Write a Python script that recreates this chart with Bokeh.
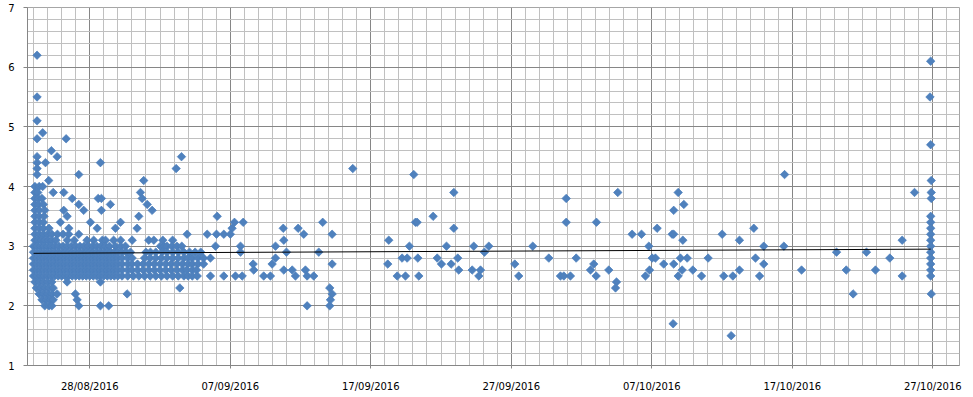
import numpy as np
import pandas as pd
from bokeh.plotting import figure
from bokeh.models import FixedTicker, Range1d, DatetimeTickFormatter, ColumnDataSource
from bokeh.embed import file_html
from bokeh.resources import INLINE

# ---- data: day offsets from 28/08/2016 for each observed value level ----
BASE = pd.Timestamp("2016-08-28")

v62 = [-3.75]
v61 = [59.85]
v55 = [-3.75, 59.8]
v51 = [-3.75]
v49 = [-3.35]
v48 = [-3.75, -1.68]
v47 = [59.85]
v46 = [-2.73]
v45 = [-3.75, -2.32, 6.53]
v44 = [-3.75, -3.15, 0.76]
v43 = [-3.75, 6.15, 18.72]
v42 = [-3.75, -0.78, 23.06, 49.45]
v41 = [-2.92, 3.84, 59.89]
v40 = [-3.9, -3.6, -3.35]
v39 = [-3.9, -3.7, -2.6, -1.85, 3.61, 25.91, 37.58, 41.88, 58.70, 59.89]
v38 = [-3.9, -3.65, -3.4, -1.25, 0.6, 0.83, 3.73, 33.91, 59.89]
v37 = [-3.9, -3.65, -3.3, -0.78, 1.47, 4.09, 42.28]
v36 = [-3.9, -3.6, -3.2, -1.85, -0.43, 0.83, 4.44, 41.56]
v35 = [-3.9, -3.6, -3.25, -1.61, 3.49, 9.07, 24.44, 59.85]
v34 = [-3.9, -3.6, -3.3, -2.09, 0.05, 2.19, 10.30, 10.92, 16.58, 23.18, 23.30,
       33.91, 36.06, 59.85]
v33 = [-3.9, -3.6, -3.3, -2.9, -1.49, 0.53, 1.83, 3.37, 10.13, 13.77, 14.83,
       25.91, 40.38, 47.26, 59.85]
v32 = [-3.9, -3.6, -3.3, -3.0, -2.7, -2.3, -1.9, -1.5, -0.78, 6.93, 8.36, 9.02,
       9.54, 10.01, 15.23, 17.25, 38.60, 39.27, 41.45, 41.56, 45.01, 59.85]
v31 = [-3.9, -3.7, -3.45, -3.2, -2.95, -2.7, -2.4, -1.6, -1.1, -0.2, 0.28, 0.9,
       1.12, 1.7, 2.2, 3.02, 4.20, 4.56, 5.2, 5.9, 13.81, 21.28, 42.21, 46.24,
       57.82, 59.85]
v30 = [-4.0, -3.75, -3.5, -3.25, -3.0, -2.75, -2.5, -2.2, -1.9, -1.6, -1.3, -1.0,
       -0.7, -0.4, -0.1, 0.2, 0.5, 0.8, 1.1, 1.4, 1.83, 2.2, 2.54, 5.03, 5.3,
       5.5, 5.85, 6.2, 6.55, 8.95, 10.73, 13.22, 22.75, 25.39, 27.33, 28.40,
       31.53, 39.79, 47.97, 49.40, 59.85]
v29 = [-4.0, -3.75, -3.5, -3.25, -3.0, -2.75, -2.5, -2.25, -2.0, -1.75, -1.5,
       -1.25, -1.0, -0.75, -0.5, -0.25, 0.0, 0.25, 0.5, 0.75, 1.0, 1.25, 1.5,
       1.75, 2.0, 2.3, 2.6, 2.9, 4.0, 4.32, 4.7, 5.15, 5.5, 5.9, 6.3, 6.7, 7.1,
       7.5, 7.9, 10.73, 14.00, 16.30, 28.09, 53.15, 55.28, 59.85]
v28 = [-4.0, -3.75, -3.5, -3.25, -3.0, -2.75, -2.5, -2.25, -2.0, -1.75, -1.5,
       -1.25, -1.0, -0.75, -0.5, -0.25, 0.0, 0.25, 0.5, 0.75, 1.0, 1.25, 1.5,
       1.75, 2.0, 2.3, 2.7, 3.02, 3.9, 4.3, 4.7, 5.1, 5.5, 5.9, 6.3, 6.7, 7.0,
       7.3, 7.7, 8.1, 8.59, 13.22, 22.23, 22.59, 23.35, 24.73, 26.19, 32.67,
       34.62, 40.03, 40.26, 42.04, 42.52, 44.01, 47.38, 56.94, 59.85]
v27 = [-4.0, -3.75, -3.5, -3.25, -3.0, -2.75, -2.5, -2.25, -2.0, -1.75, -1.5,
       -1.25, -1.0, -0.75, -0.5, -0.25, 0.0, 0.25, 0.5, 0.75, 1.0, 1.25, 1.5,
       1.75, 2.0, 2.3, 2.7, 3.0, 3.4, 3.8, 4.2, 4.6, 5.0, 5.4, 5.8, 6.2, 6.6,
       7.0, 7.3, 7.7, 8.1, 11.63, 12.98, 17.25, 21.21, 25.03, 25.72, 30.25,
       35.87, 40.85, 41.56, 47.97, 59.85]
v26 = [-4.0, -3.75, -3.5, -3.25, -3.0, -2.75, -2.5, -2.25, -2.0, -1.75, -1.5,
       -1.25, -1.0, -0.75, -0.5, -0.25, 0.0, 0.25, 0.5, 0.75, 1.0, 1.25, 1.5,
       1.75, 2.0, 2.3, 2.7, 3.0, 3.4, 3.8, 4.2, 4.6, 5.0, 5.4, 5.8, 6.2, 6.6,
       6.9, 7.3, 7.6, 11.67, 13.81, 14.41, 15.35, 26.26, 27.22, 27.81, 35.64,
       36.94, 39.84, 42.16, 42.92, 46.24, 50.66, 53.84, 55.92, 59.85]
v25 = [-4.0, -3.75, -3.5, -3.25, -3.0, -2.75, -2.5, -2.25, -2.0, -1.75, -1.5,
       -1.25, -1.0, -0.75, -0.5, -0.25, 0.0, 0.25, 0.5, 0.75, 1.0, 1.25, 1.5,
       1.75, 2.0, 2.3, 2.7, 3.1, 3.5, 3.9, 4.3, 4.7, 5.1, 5.5, 5.9, 6.3, 6.7,
       7.0, 7.3, 7.65, 8.59, 9.54, 10.37, 10.85, 12.38, 12.86, 14.64, 15.47,
       15.94, 21.88, 22.47, 23.42, 27.69, 30.53, 33.50, 33.74, 34.21, 36.04,
       39.55, 41.88, 43.54, 45.12, 45.77, 47.67, 57.82, 59.85]
v24 = [-3.9, -3.6, -3.3, -3.0, -2.7, -1.61, 0.76, 37.49]
v23 = [-3.8, -3.5, -3.2, -2.9, -2.6, 6.41, 17.08, 37.42]
v22 = [-3.6, -3.3, -3.0, -2.7, -2.32, -1.02, 2.66, 17.25, 54.33, 59.89]
v21 = [-3.4, -3.1, -2.8, -2.6, -0.90, 17.13]
v20 = [-3.2, -2.9, -2.7, -0.78, 0.76, 1.35, 15.47, 17.08]
v17 = [41.52]
v15 = [45.65]

levels = [(6.2, v62), (6.1, v61), (5.5, v55), (5.1, v51), (4.9, v49), (4.8, v48),
          (4.7, v47), (4.6, v46), (4.5, v45), (4.4, v44), (4.3, v43), (4.2, v42),
          (4.1, v41), (4.0, v40), (3.9, v39), (3.8, v38), (3.7, v37), (3.6, v36),
          (3.5, v35), (3.4, v34), (3.3, v33), (3.2, v32), (3.1, v31), (3.0, v30),
          (2.9, v29), (2.8, v28), (2.7, v27), (2.6, v26), (2.5, v25), (2.4, v24),
          (2.3, v23), (2.2, v22), (2.1, v21), (2.0, v20), (1.7, v17), (1.5, v15)]

# linear trendline end points (day offset, value)
trend_days = [-4.0, 59.85]
trend_vals = [2.88, 2.95]

major_dates = ["2016-08-28", "2016-09-07", "2016-09-17", "2016-09-27",
               "2016-10-07", "2016-10-17", "2016-10-27"]
y_ticks = [1, 2, 3, 4, 5, 6, 7]

# ---- build ----
xs, ys = [], []
for val, days in levels:
    for d in days:
        xs.append(BASE + pd.Timedelta(days=d))
        ys.append(val)
src = ColumnDataSource(dict(x=xs, y=ys))

def ms(t):
    return (pd.Timestamp(t) - pd.Timestamp("1970-01-01")) / pd.Timedelta(milliseconds=1)

x_start = BASE + pd.Timedelta(days=-4.43)
x_end = BASE + pd.Timedelta(days=61.9)

p = figure(width=973, height=397, x_axis_type="datetime",
           output_backend="svg", toolbar_location=None,
           x_range=Range1d(x_start, x_end), y_range=Range1d(1, 7),
           min_border_left=27, min_border_right=14, min_border_top=7,
           min_border_bottom=32)

minor_x = [ms(t) for t in pd.date_range("2016-08-24", "2016-10-29", freq="D")]
p.xaxis.ticker = FixedTicker(ticks=[ms(t) for t in major_dates], minor_ticks=minor_x)
fmt = "%d/%m/%Y"
p.xaxis.formatter = DatetimeTickFormatter(milliseconds=fmt, seconds=fmt, minsec=fmt,
                                          minutes=fmt, hourmin=fmt, hours=fmt,
                                          days=fmt, months=fmt, years=fmt)
minor_y = [round(1 + 0.2 * i, 1) for i in range(31) if round(1 + 0.2 * i, 1) not in y_ticks]
p.yaxis.ticker = FixedTicker(ticks=y_ticks, minor_ticks=minor_y)

for g in (p.xgrid, p.ygrid):
    g.grid_line_color = "#868686"
    g.grid_line_width = 1
    g.minor_grid_line_color = "#c0c0c0"
    g.minor_grid_line_width = 1

for ax in (p.xaxis, p.yaxis):
    ax.axis_line_color = "#868686"
    ax.major_tick_line_color = "#868686"
    ax.major_tick_in = 0
    ax.minor_tick_line_color = None
    ax.major_label_text_font = "DejaVu Sans"
    ax.major_label_text_font_size = "10px"
    ax.major_label_text_color = "#000000"
p.xaxis.major_tick_out = 3
p.xaxis.major_label_standoff = 11
p.yaxis.major_tick_out = 4
p.yaxis.major_label_standoff = 9

p.outline_line_color = "#a6a6a6"
p.background_fill_color = "white"
p.border_fill_color = "white"

p.scatter(x="x", y="y", source=src, marker="square", angle=np.pi / 4, size=6,
          fill_color="#4f81bd", line_color="#4a7ebb", line_width=0.7)

p.line(x=[BASE + pd.Timedelta(days=d) for d in trend_days], y=trend_vals,
       line_color="black", line_width=1)

open("out.html", "w").write(file_html(p, INLINE))
